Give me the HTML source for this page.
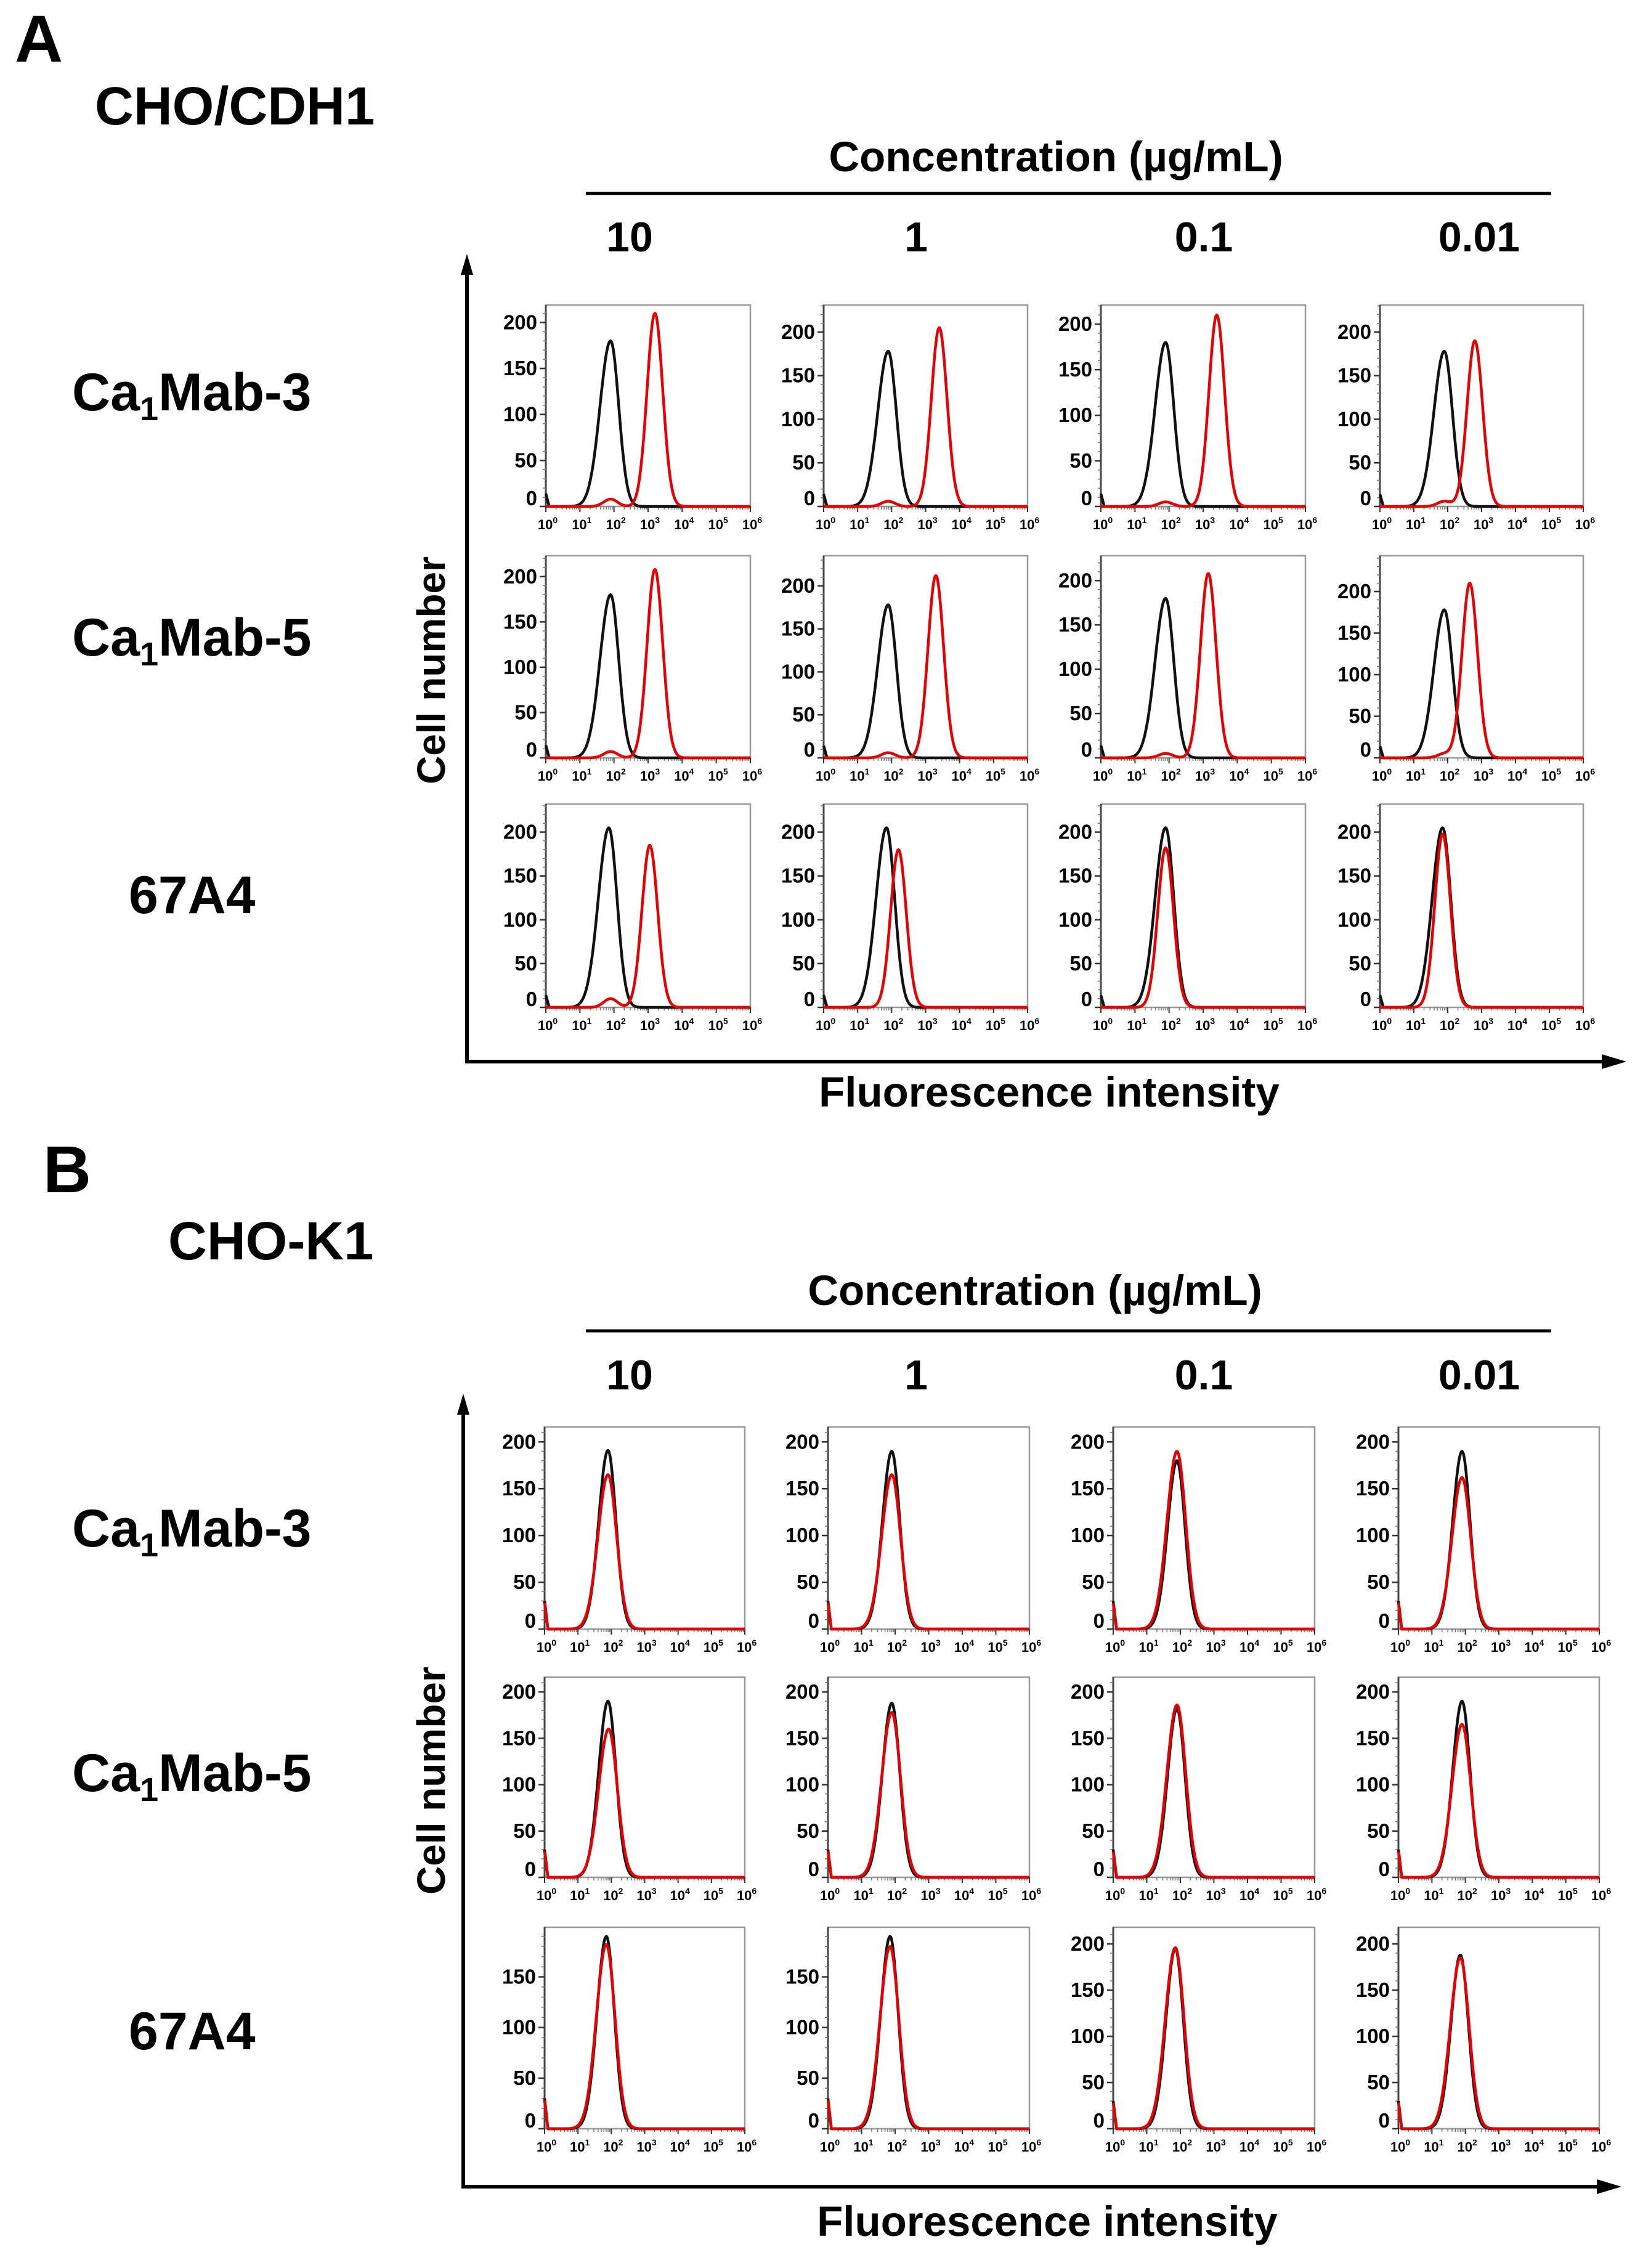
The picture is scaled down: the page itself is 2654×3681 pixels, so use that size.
<!DOCTYPE html>
<html><head><meta charset="utf-8"><style>
html,body{margin:0;padding:0;background:#fff}
svg{display:block}
text{font-family:"Liberation Sans",Arial,sans-serif;font-weight:bold;fill:#000}
</style></head><body>
<svg id="fig" width="2654" height="3681" viewBox="0 0 2654 3681" xmlns="http://www.w3.org/2000/svg">
<!-- Panel A static text -->
<text x="24" y="100" font-size="108">A</text>
<text x="154" y="202" font-size="87">CHO/CDH1</text>
<text x="1714" y="278" font-size="69" text-anchor="middle">Concentration (µg/mL)</text>
<line x1="951" y1="314" x2="2518" y2="314" stroke="#000" stroke-width="5"/>
<text x="1022" y="408" font-size="68" text-anchor="middle">10</text>
<text x="1487" y="408" font-size="68" text-anchor="middle">1</text>
<text x="1954" y="408" font-size="68" text-anchor="middle">0.1</text>
<text x="2401" y="408" font-size="68" text-anchor="middle">0.01</text>
<text x="117" y="666" font-size="86">Ca<tspan font-size="54" dy="16">1</tspan><tspan dy="-16">Mab-3</tspan></text>
<text x="117" y="1064" font-size="86">Ca<tspan font-size="54" dy="16">1</tspan><tspan dy="-16">Mab-5</tspan></text>
<text x="209" y="1482" font-size="86">67A4</text>
<text transform="translate(722,1088) rotate(-90)" font-size="64" text-anchor="middle">Cell number</text>
<text x="1703" y="1796" font-size="69" text-anchor="middle">Fluorescence intensity</text>
<line x1="758" y1="1726" x2="758" y2="440" stroke="#000" stroke-width="6"/>
<polygon points="758,412 748,446 768,446" fill="#000"/>
<line x1="755" y1="1723" x2="2610" y2="1723" stroke="#000" stroke-width="6"/>
<polygon points="2640,1723 2600,1711 2600,1735" fill="#000"/>
<!-- Panel B static text -->
<text x="70" y="1935" font-size="108">B</text>
<text x="273" y="2044" font-size="87">CHO-K1</text>
<text x="1680" y="2118" font-size="69" text-anchor="middle">Concentration (µg/mL)</text>
<line x1="951" y1="2160" x2="2518" y2="2160" stroke="#000" stroke-width="5"/>
<text x="1022" y="2255" font-size="68" text-anchor="middle">10</text>
<text x="1487" y="2255" font-size="68" text-anchor="middle">1</text>
<text x="1954" y="2255" font-size="68" text-anchor="middle">0.1</text>
<text x="2401" y="2255" font-size="68" text-anchor="middle">0.01</text>
<text x="117" y="2510" font-size="86">Ca<tspan font-size="54" dy="16">1</tspan><tspan dy="-16">Mab-3</tspan></text>
<text x="117" y="2907" font-size="86">Ca<tspan font-size="54" dy="16">1</tspan><tspan dy="-16">Mab-5</tspan></text>
<text x="209" y="3326" font-size="86">67A4</text>
<text transform="translate(722,2890) rotate(-90)" font-size="64" text-anchor="middle">Cell number</text>
<text x="1700" y="3629" font-size="69" text-anchor="middle">Fluorescence intensity</text>
<line x1="752" y1="3552" x2="752" y2="2290" stroke="#000" stroke-width="6"/>
<polygon points="752,2262 742,2296 762,2296" fill="#000"/>
<line x1="749" y1="3549" x2="2600" y2="3549" stroke="#000" stroke-width="6"/>
<polygon points="2632,3549 2592,3537 2592,3561" fill="#000"/>
<g id="panels"></g>
</svg>
<script>
// ---- data (log10 peak positions and peak heights) ----
const xTickLabels = ["0","1","2","3","4","5","6"];
const aBlackPeak = [[1.9,1.9,1.9,1.9],[1.9,1.9,1.9,1.9],[1.85,1.85,1.9,1.85]];
const aBlackHeight = [[180,178,180,178],[180,178,180,178],[205,205,205,205]];
const aRedPeak = [[3.2,3.4,3.4,2.8],[3.2,3.3,3.15,2.65],[3.05,2.2,1.9,1.85]];
const aRedHeight = [[210,205,210,190],[208,212,208,210],[185,180,182,198]];
const aRedBump = [[8,6,5,6],[7,6,5,5],[10,0,0,0]];
const aYMax = [[219,231,221,231],[223,235,228,243],[232,232,232,232]];
const bBlackPeak = [[1.9,1.9,1.9,1.9],[1.9,1.9,1.9,1.9],[1.85,1.85,1.85,1.85]];
const bBlackHeight = [[191,190,180,190],[190,188,182,190],[190,190,195,188]];
const bRedPeak = [[1.9,1.9,1.9,1.9],[1.92,1.9,1.9,1.9],[1.85,1.85,1.85,1.85]];
const bRedHeight = [[165,165,190,162],[160,178,186,165],[182,180,196,185]];
const bYMax = [[216,216,216,216],[216,216,216,216],[199,199,218,218]];
const bYTicks = [[200,150,100,50,0],[200,150,100,50,0],[150,100,50,0]];
const aYTicks = [200,150,100,50,0];

// ---- layout ----
const aColX = [886,1337,1787,2240], aColW = [332,331,332,330];
const aRowY = [495,902,1305], aRowH = [327,328,330];
const bColX = [884,1344,1807,2270], bColW = [325,327,327,326];
const bRowY = [2316,2722,3128], bRowH = [328,325,327];

const NS = "http://www.w3.org/2000/svg";
const root = document.getElementById("panels");
function mk(tag, attrs, parent){ const e=document.createElementNS(NS,tag); for(const k in attrs) e.setAttribute(k,attrs[k]); (parent||root).appendChild(e); return e; }

function curveVal(lg, c, h, sL, sR, bump, spike){
  const s = lg < c ? sL : sR;
  let v = h*Math.exp(-0.5*Math.pow((lg-c)/s,2));
  if (bump) v += bump*Math.exp(-0.5*Math.pow((lg-1.9)/0.2,2));
  if (spike && lg < 0.1) v += spike*(1-lg/0.1);
  return v;
}

function drawPanel(prefix, x, y, w, h, ymax, ticks, series){
  const g = mk("g",{});
  
  
  const sx = lg => x + lg/6*w;
  const sy = v => y + h - v/ymax*h;
  const frame = mk("rect",{x:x,y:y,width:w,height:h,fill:"none",stroke:"#999","stroke-width":2.5},g);
  
  
  const yax = mk("line",{x1:x,y1:y,x2:x,y2:y+h,stroke:"#444","stroke-width":3},g);
  
  
  for(let v=10; v<ymax; v+=10){
    mk("line",{x1:x-5,y1:sy(v),x2:x,y2:sy(v),stroke:"#777","stroke-width":1.5},g);
  }
  ticks.forEach(t=>{
    mk("line",{x1:x-10,y1:sy(t),x2:x,y2:sy(t),stroke:"#333","stroke-width":2.5},g);
    const tl = mk("text",{x:x-14,y:sy(t)+(t===0?-2:11),"font-size":33,"text-anchor":"end"},g);
    tl.textContent = String(t);
    
    
  });
  for(let d=0; d<6; d++){
    for(let k=2;k<10;k++){
      const lx = sx(d+Math.log10(k));
      mk("line",{x1:lx,y1:y+h,x2:lx,y2:y+h+5,stroke:"#777","stroke-width":1.5},g);
    }
  }
  xTickLabels.forEach((lab,i)=>{
    const lx = sx(i);
    mk("line",{x1:lx,y1:y+h,x2:lx,y2:y+h+9,stroke:"#333","stroke-width":2},g);
    const t = mk("text",{x:lx+3,y:y+h+37,"font-size":22,"text-anchor":"middle"},g);
    
    
    t.appendChild(document.createTextNode("10"));
    const sup = mk("tspan",{"font-size":14,dy:-10},t);
    sup.textContent = lab;
  });
  series.forEach(s=>{
    let d="";
    for(let lg=0; lg<=6.0001; lg+=0.02){
      const v = curveVal(lg, s.c, s.h, s.sL, s.sR, s.bump, s.spike);
      d += (d?"L":"M")+sx(lg).toFixed(1)+","+sy(v).toFixed(1);
    }
    const p = mk("path",{d:d,fill:"none",stroke:s.color,"stroke-width":4.5,"stroke-linejoin":"round"},g);
    
    
  });
}

const rowNames = ["ca1mab3","ca1mab5","67a4"], colNames = ["10","1","0.1","0.01"];
for(let r=0;r<3;r++) for(let c=0;c<4;c++){
  drawPanel("a-"+rowNames[r]+"-"+colNames[c], aColX[c], aRowY[r], aColW[c], aRowH[r], aYMax[r][c], aYTicks, [
    {name:"control", color:"#111", c:aBlackPeak[r][c], h:aBlackHeight[r][c], sL:0.31, sR:0.24, bump:0, spike:14},
    {name:"antibody", color:"#e60000", c:aRedPeak[r][c], h:aRedHeight[r][c], sL:0.23, sR:0.23, bump:aRedBump[r][c], spike:0}
  ]);
  drawPanel("b-"+rowNames[r]+"-"+colNames[c], bColX[c], bRowY[r], bColW[c], bRowH[r], bYMax[r][c], bYTicks[r===2 && c<2 ? 2 : 0], [
    {name:"control", color:"#111", c:bBlackPeak[r][c], h:bBlackHeight[r][c], sL:0.28, sR:0.24, bump:0, spike:30},
    {name:"antibody", color:"#e60000", c:bRedPeak[r][c], h:bRedHeight[r][c], sL:0.3, sR:0.26, bump:0, spike:28}
  ]);
}
</script>
</body></html>
